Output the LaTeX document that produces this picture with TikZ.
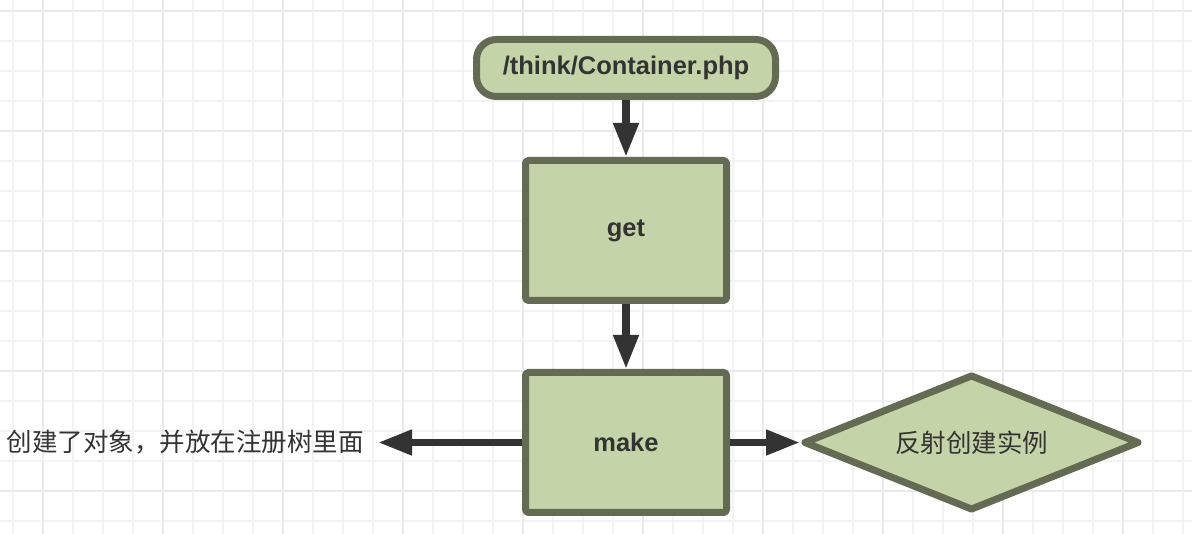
\documentclass[tikz,border=0pt]{standalone}
\usepackage{fontspec}
\setmainfont{Liberation Sans}
\newfontfamily\cjk{Noto Sans CJK SC}
\usepackage{tikz}
\usetikzlibrary{shapes.geometric,arrows.meta,positioning}
\definecolor{boxfill}{HTML}{C5D4A8}
\definecolor{boxline}{HTML}{636B53}
\definecolor{ink}{HTML}{333333}
\definecolor{gridminor}{HTML}{F3F3F3}
\definecolor{gridmajor}{HTML}{EAEAEA}
\tikzstyle{gridline} = [-, draw=gridminor, line width=2pt]
\tikzstyle{gridbold} = [-, draw=gridmajor, line width=2pt]
\tikzstyle{chartbox} = [draw=boxline, fill=boxfill, line width=7pt, line join=round, text=ink, font=\fontsize{25.5}{30}\selectfont\bfseries]
\tikzstyle{terminal} = [chartbox, rectangle, rounded corners=20pt, minimum width=299pt, minimum height=57pt]
\tikzstyle{process} = [chartbox, rectangle, rounded corners=3pt, minimum width=201pt, minimum height=140pt]
\tikzstyle{decision} = [chartbox, diamond, aspect=2.47, inner sep=2pt, minimum width=336pt, minimum height=136pt, font=\fontsize{25.5}{30}\selectfont\cjk]
\tikzstyle{note} = [text=ink, inner xsep=14pt, inner ysep=2pt, font=\fontsize{25.5}{30}\selectfont\cjk]
\tikzstyle{flow} = [draw=ink, line width=7.5pt]

\begin{document}
\begin{tikzpicture}[x=1pt,y=1pt,->,>={Triangle[length=34pt,width=24pt]},shorten >=0pt,auto]
\useasboundingbox (0,0) rectangle (1192,534);
\fill[white] (0,0) rectangle (1192,534);

% background grid
\foreach \i in {0,...,39}
  \draw[gridline] ({12.7+30*\i},0) -- ({12.7+30*\i},534);
\foreach \j in {0,...,17}
  \draw[gridline] (0,{523.3-30*\j}) -- (1192,{523.3-30*\j});
\foreach \i in {0,...,9}
  \draw[gridbold] ({42.7+120*\i},0) -- ({42.7+120*\i},534);
\foreach \j in {0,...,4}
  \draw[gridbold] (0,{523.3-120*\j}) -- (1192,{523.3-120*\j});

\node[terminal] (container) at (626,466) {/think/Container.php};
\node[process, below=57pt of container] (get) {get};
\node[process, below=65pt of get] (make) {make};
\node[decision, right=70pt of make] (reflect) {反射创建实例};
\node[note, left=144pt of make] (registry) {创建了对象，并放在注册树里面};

\path
(container) edge [flow] node {} (get)
(get) edge [flow] node {} (make)
(make) edge [flow] node {} (reflect)
(make) edge [flow] node {} (registry);
\end{tikzpicture}
\end{document}
